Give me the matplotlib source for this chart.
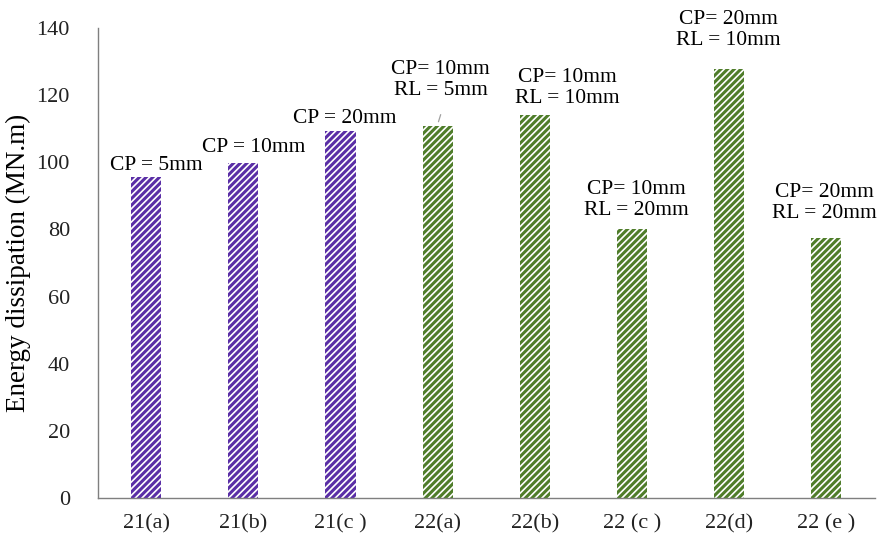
import matplotlib.pyplot as plt

plt.rcParams["font.family"] = ["Liberation Serif", "DejaVu Serif"]
plt.rcParams["hatch.linewidth"] = 1.2

cases = ["21(a)", "21(b)", "21(c )", "22(a)", "22(b)", "22 (c )", "22(d)", "22 (e )"]
energy = [95.6, 99.8, 109.3, 110.8, 114.1, 80.1, 127.8, 77.4]
notes = [
    "CP = 5mm",
    "CP = 10mm",
    "CP = 20mm",
    "CP= 10mm\nRL = 5mm",
    "CP= 10mm\nRL = 10mm",
    "CP= 10mm\nRL = 20mm",
    "CP= 20mm\nRL = 10mm",
    "CP= 20mm\nRL = 20mm",
]
purple = "#5a2ea6"
green = "#4f7d2a"
colors = [purple] * 3 + [green] * 5

# label offsets from the top of each bar (pixels)
offsets = [(10, 12), (10, 15), (4, 13), (3, 46), (33, 27), (4, 29), (-1, 39), (-2, 35)]

fig, ax = plt.subplots(figsize=(8.8, 5.39), dpi=100)
fig.subplots_adjust(left=0.111, right=0.994, top=0.948, bottom=0.076)

x = range(len(cases))
bars = ax.bar(x, energy, width=0.31, color=colors, edgecolor="white",
              hatch="/////", linewidth=0)

for i, (val, txt) in enumerate(zip(energy, notes)):
    dx, dy = offsets[i]
    ax.annotate(txt, xy=(i, val), xytext=(dx, dy), textcoords="offset pixels",
                ha="center", va="center", fontsize=15.5, linespacing=1.1)

# leader line for 22(a)
ax.annotate("", xy=(3, energy[3] + 0.5), xytext=(3.04, energy[3] + 4.2),
            arrowprops=dict(arrowstyle="-", color="#a0a0a0", lw=0.9))

ax.set_xlim(-0.5, 7.5)
ax.set_ylim(0, 140)
ax.set_yticks(range(0, 141, 20))
ax.set_xticks(list(x))
ax.set_xticklabels(cases)
ax.tick_params(axis="both", length=0, labelsize=16, labelcolor="#222222")
ax.tick_params(axis="x", pad=12)
ax.tick_params(axis="y", pad=20)
ax.set_ylabel("Energy dissipation (MN.m)", fontsize=19.5, labelpad=4)

for side in ["top", "right"]:
    ax.spines[side].set_visible(False)
for side in ["left", "bottom"]:
    ax.spines[side].set_color("#7f7f7f")
    ax.spines[side].set_linewidth(1.0)

plt.savefig("out.png", dpi=100)
